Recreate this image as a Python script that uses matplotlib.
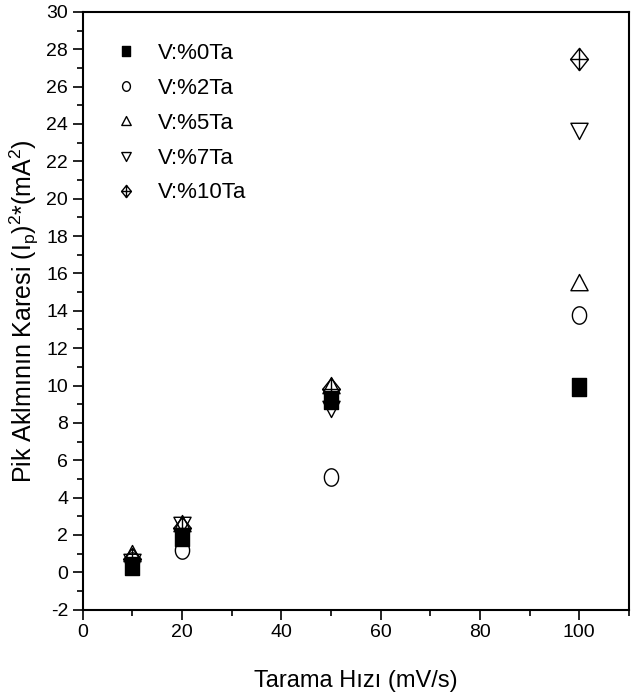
import matplotlib
matplotlib.use("Agg")
import matplotlib.pyplot as plt
import numpy as np
from matplotlib.path import Path
from matplotlib.ticker import MultipleLocator

plt.rcParams['font.family'] = ['Liberation Sans', 'DejaVu Sans']
plt.rcParams['axes.unicode_minus'] = False

# tarama hızı (mV/s)
x = [10, 20, 50, 100]

# (Ip)^2 değerleri, seri başına
ta0 = [0.35, 1.9, 9.2, 9.9]
ta2 = [0.6, 1.2, 5.1, 13.8]
ta5 = [1.0, 2.6, 10.0, 15.5]
ta7 = [0.6, 2.6, 8.8, 23.7]
ta10 = [0.7, 2.4, 9.8, 27.5]

labels = ['V:%0Ta', 'V:%2Ta', 'V:%5Ta', 'V:%7Ta', 'V:%10Ta']

# orijinal grafikte markerler yatayda biraz basık
kare = Path([(-0.75, -1), (0.75, -1), (0.75, 1), (-0.75, 1), (-0.75, -1)],
            [Path.MOVETO, Path.LINETO, Path.LINETO, Path.LINETO, Path.CLOSEPOLY])
t = np.linspace(0, 2 * np.pi, 60)
elips = Path(np.column_stack([0.82 * np.cos(t), np.sin(t)]))
ucgen_up = Path([(0, 1), (-0.95, -0.8), (0.95, -0.8), (0, 1)],
                [Path.MOVETO, Path.LINETO, Path.LINETO, Path.CLOSEPOLY])
ucgen_dn = Path([(0, -1), (-0.95, 0.8), (0.95, 0.8), (0, -1)],
                [Path.MOVETO, Path.LINETO, Path.LINETO, Path.CLOSEPOLY])
# içi artılı elmas
dcross = Path([(0, 1), (0.8, 0), (0, -1), (-0.8, 0), (0, 1), (0, -1), (-0.8, 0), (0.8, 0)],
              [Path.MOVETO, Path.LINETO, Path.LINETO, Path.LINETO, Path.LINETO,
               Path.LINETO, Path.MOVETO, Path.LINETO])

fig = plt.figure(figsize=(6.32, 7.0), dpi=100)
ax = fig.add_axes([0.131, 0.129, 0.864, 0.854])

series = [ta0, ta2, ta5, ta7, ta10]
markers = [kare, elips, ucgen_up, ucgen_dn, dcross]
faces = ['black', 'none', 'none', 'none', 'none']
sizes = [12.5, 12.5, 13, 13, 16]

for y, m, fc, s, lab in zip(series, markers, faces, sizes, labels):
    ax.plot(x, y, linestyle='none', marker=m, markersize=s, markerfacecolor=fc,
            markeredgecolor='black', markeredgewidth=1.0, label=lab)

ax.set_xlim(0, 110)
ax.set_ylim(-2, 30)
ax.xaxis.set_major_locator(MultipleLocator(20))
ax.xaxis.set_minor_locator(MultipleLocator(10))
ax.yaxis.set_major_locator(MultipleLocator(2))
ax.yaxis.set_minor_locator(MultipleLocator(1))
ax.tick_params(which='both', direction='out', width=1.2, labelsize=14)
ax.tick_params(which='major', length=7)
ax.tick_params(which='minor', length=4)
for sp in ax.spines.values():
    sp.set_linewidth(1.5)

ax.set_xlabel('Tarama Hızı (mV/s)', fontsize=17, labelpad=21)
ax.set_ylabel('Pik Aklmının Karesi (I$_\\mathregular{p}$)$^\\mathregular{2}$*(mA$^\\mathregular{2}$)',
              fontsize=18, labelpad=4)

leg = ax.legend(loc='upper left', frameon=False, fontsize=16, markerscale=0.55,
                handlelength=1.0, handletextpad=0.9, labelspacing=0.62,
                borderaxespad=0.2, bbox_to_anchor=(0.035, 0.97))

fig.savefig('out.png', dpi=100)
